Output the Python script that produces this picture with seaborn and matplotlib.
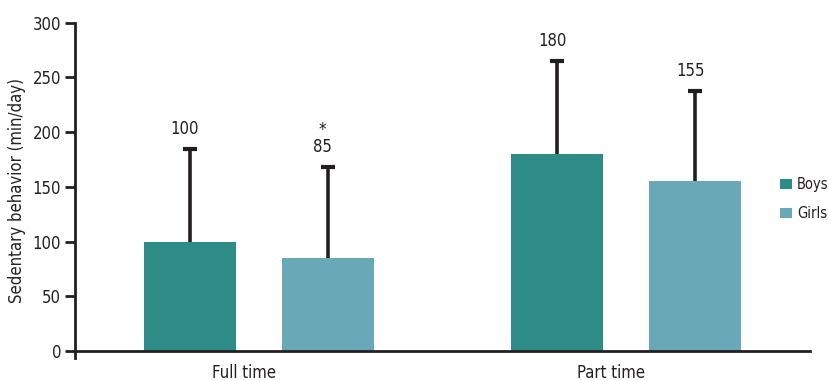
import numpy as np
import pandas as pd
import matplotlib
matplotlib.use("Agg")
import matplotlib.pyplot as plt
import matplotlib.transforms as mtransforms
from matplotlib.patches import Patch
import seaborn as sns

# ---- data ----
groups = ["Full time", "Part time"]
sexes = ["Boys", "Girls"]
boys_mean = [100, 180]
girls_mean = [85, 155]
boys_sd = [85, 85]
girls_sd = [83, 83]
value_labels = {"Boys": ["100", "180"], "Girls": ["*\n85", "155"]}
yticks = [0, 50, 100, 150, 200, 250, 300]
colors = ["#2e8c87", "#68a8b7"]

sns.set_theme(style="white")
plt.rcParams["font.family"] = ["Liberation Sans Narrow", "DejaVu Sans"]
plt.rcParams["font.stretch"] = "condensed"

df = pd.DataFrame({
    "time": groups * 2,
    "sex": ["Boys"] * 2 + ["Girls"] * 2,
    "value": boys_mean + girls_mean,
    "sd": boys_sd + girls_sd,
})

W, H = 829, 380
fig = plt.figure(figsize=(W / 100, H / 100), dpi=100)
ypx = 328.3 / 300.0
bottom_px = 380 - 351 - 6 * ypx
ax = fig.add_axes([75 / W, bottom_px / H, 735 / W, 306 * ypx / H])

sns.barplot(data=df, x="time", y="value", hue="sex", order=groups,
            hue_order=sexes, palette=colors, saturation=1, width=0.75,
            gap=0.333, errorbar=None, linewidth=0, ax=ax, legend=False)

ax.set_xlim(-0.5, 1.5)
ax.set_ylim(-6, 300)

ink = "#231f20"
fs = 12

rows = []
for s in sexes:
    for g in groups:
        rows.append(df[(df.sex == s) & (df.time == g)].iloc[0])
for patch, r in zip(ax.patches[:4], rows):
    cx = patch.get_x() + patch.get_width() / 2
    top = r.value + r.sd
    ax.vlines(cx, r.value, top, color=ink, lw=2.6, zorder=3)
    ax.plot([cx], [top], marker="_", ms=10, mew=3, color=ink, zorder=3)
    lab = value_labels[r.sex][groups.index(r.time)]
    off = mtransforms.offset_copy(ax.transData, fig=fig, x=-5, y=11, units="dots")
    ax.text(cx, top, lab, ha="center", va="bottom", fontsize=fs,
            color=ink, transform=off, linespacing=0.95)

# spines
for side in ["top", "right"]:
    ax.spines[side].set_visible(False)
ax.spines["bottom"].set_position(("data", 0))
for side in ["left", "bottom"]:
    ax.spines[side].set_color(ink)
    ax.spines[side].set_linewidth(2)

ax.set_yticks(yticks)
ax.set_yticklabels([str(v) for v in yticks])
ax.tick_params(axis="y", direction="out", length=7, width=2, color=ink,
               labelsize=fs, labelcolor=ink, pad=3, left=True)
ax.tick_params(axis="x", length=0, labelsize=fs, labelcolor=ink, pad=9)
xoff = mtransforms.ScaledTranslation(-15 / 100, 0, fig.dpi_scale_trans)
for t in ax.get_xticklabels():
    t.set_transform(t.get_transform() + xoff)

ax.set_xlabel("")
ax.set_ylabel("Sedentary behavior (min/day)", fontsize=fs, color=ink, labelpad=5)

handles = [Patch(facecolor=c, edgecolor="none", label=s) for c, s in zip(colors, sexes)]
fig.legend(handles=handles, loc="center left", bbox_to_anchor=(780 / W, 1 - 199 / H),
           frameon=False, fontsize=10.5, handlelength=0.8, handleheight=0.75,
           handletextpad=0.35, labelspacing=0.95, labelcolor=ink,
           borderpad=0, borderaxespad=0)

fig.savefig("out.png", dpi=100)
